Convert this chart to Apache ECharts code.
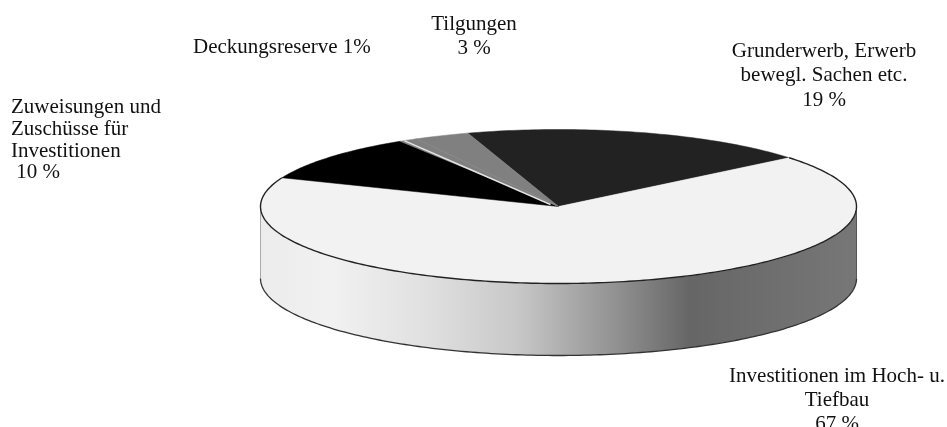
<!DOCTYPE html>
<html><head><meta charset="utf-8">
<style>html,body{margin:0;padding:0;background:#fff}#c{width:947px;height:427px;filter:blur(0.4px)}</style>
<script src="https://cdn.jsdelivr.net/npm/echarts@6/dist/echarts.min.js"></script>
</head><body><div id="c"></div>
<script>
const categories = ['Grunderwerb, Erwerb\nbewegl. Sachen etc.\n19 %', 'Investitionen im Hoch- u.\nTiefbau\n67 %', 'Zuweisungen und\nZuschüsse für\nInvestitionen\n 10 %', 'Deckungsreserve 1%', 'Tilgungen\n3 %'];
const values = [19, 67, 10, 1, 3];
const sliceColors = ['#222222', '#f2f2f2', '#000000', '#808080', '#808080'];
const labelX = [824, 837, 11, 193, 474];
const labelY = [39, 364, 97, 36, 12];
const labelAlign = ['center', 'center', 'left', 'left', 'center'];
const labelLine = [24.5, 24, 21.7, 22, 24];
const cx = 558.5, cy = 206.5, rx = 298, ry = 77, depth = 72, startAngle = 107.7;
const total = values.reduce((a, b) => a + b, 0);
const pt = (deg, dy) => [cx + rx * Math.cos(deg * Math.PI / 180), cy - ry * Math.sin(deg * Math.PI / 180) + (dy || 0)];
function arc(a0, a1, dy) { const n = Math.max(2, Math.ceil(Math.abs(a1 - a0))), p = []; for (let i = 0; i <= n; i++) p.push(pt(a0 + (a1 - a0) * i / n, dy)); return p; }
function sideWall() {
  const front = arc(0, -180, 0), back = arc(-180, 0, depth);
  return [
    { type: 'polygon', shape: { points: front.concat(back) }, style: {
      fill: new echarts.graphic.LinearGradient(0, 0, 1, 0, [
        { offset: 0, color: '#ececec' }, { offset: 0.12, color: '#f1f1f1' }, { offset: 0.28, color: '#e0e0e0' },
        { offset: 0.43, color: '#c8c8c8' }, { offset: 0.6, color: '#909090' }, { offset: 0.72, color: '#666666' }, { offset: 1, color: '#777777' }]) } },
    { type: 'polyline', shape: { points: [pt(180, 0), pt(180, depth)] }, style: { fill: null, stroke: '#aaaaaa', lineWidth: 1 } },
    { type: 'polyline', shape: { points: [pt(0, 0), pt(0, depth)] }, style: { fill: null, stroke: '#555555', lineWidth: 1 } },
    { type: 'polyline', shape: { points: back }, style: { fill: null, stroke: '#333333', lineWidth: 1.3 } }
  ];
}
function renderSlice(params, api) {
  const i = params.dataIndex;
  let before = 0; for (let k = 0; k < i; k++) before += values[k];
  const a0 = startAngle - before / total * 360, a1 = startAngle - (before + values[i]) / total * 360;
  const children = [];
  if (i === 0) children.push(...sideWall());
  children.push({ type: 'polygon', shape: { points: [[cx, cy]].concat(arc(a0, a1)) },
    style: { fill: sliceColors[i], stroke: sliceColors[i], lineWidth: 0.5 } });
  if (i === 1) children.push({ type: 'polyline', shape: { points: arc(a0, a1) }, style: { fill: null, stroke: '#222222', lineWidth: 1.4 } });
  if (i === 3) children.push({ type: 'polyline', shape: { points: [[cx - 8, cy - 2], pt(a0 - 0.9)] }, style: { fill: null, stroke: '#e4e4e4', lineWidth: 1.5 } });
  children.push({ type: 'text', style: { x: labelX[i], y: labelY[i], text: categories[i], align: labelAlign[i], verticalAlign: 'top',
    font: '21px "Liberation Serif"', lineHeight: labelLine[i], fill: '#111111' } });
  return { type: 'group', children };
}
const chart = echarts.init(document.getElementById('c'), null, { renderer: 'canvas' });
chart.setOption({
  animation: false, backgroundColor: '#fff',
  series: [{ type: 'custom', coordinateSystem: 'none', renderItem: renderSlice, clip: false,
    data: values.map((v, i) => ({ name: categories[i], value: v })) }]
});
</script></body></html>
